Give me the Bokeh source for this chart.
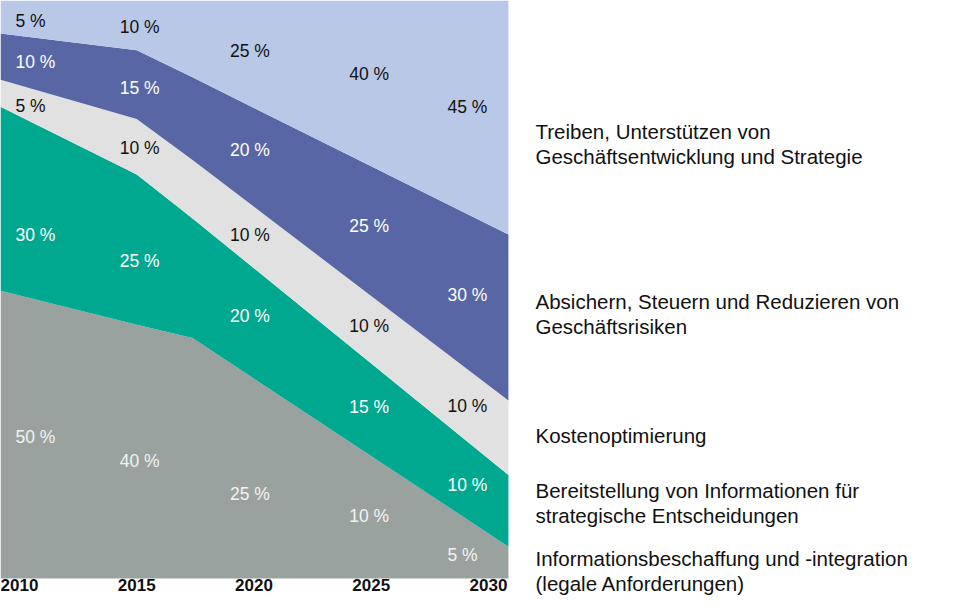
from bokeh.plotting import figure
from bokeh.models import Range1d, FixedTicker, ColumnDataSource
from bokeh.embed import file_html
from bokeh.resources import INLINE
from bokeh.core.properties import value

# ---- data ----
years = [2010, 2015, 2020, 2025, 2030]
tick_labels = ["2010", "2015", "2020", "2025", "2030"]

# x positions of the drawn band vertices (years) and layer thicknesses in %
x_edges = [2009.19, 2015.0, 2017.38, 2030.85]
info = [49.8, 43.9, 41.6, 5.5]          # Informationsbeschaffung
bereit = [31.8, 26.0, 20.7, 12.4]       # Bereitstellung von Informationen
kosten = [4.7, 9.6, 10.1, 12.9]         # Kostenoptimierung
absichern = [8.0, 11.9, 14.3, 28.7]     # Absichern, Steuern ...
treiben = [5.7, 8.6, 13.3, 40.5]        # Treiben, Unterstützen ...

# printed percentages per year
pct_info = [50, 40, 25, 10, 5]
pct_bereit = [30, 25, 20, 15, 10]
pct_kosten = [5, 10, 10, 10, 10]
pct_absichern = [10, 15, 20, 25, 30]
pct_treiben = [5, 10, 25, 40, 45]

layer_names = [
    ["Informationsbeschaffung und -integration", "(legale Anforderungen)"],
    ["Bereitstellung von Informationen für", "strategische Entscheidungen"],
    ["Kostenoptimierung"],
    ["Absichern, Steuern und Reduzieren von", "Geschäftsrisiken"],
    ["Treiben, Unterstützen von", "Geschäftsentwicklung und Strategie"],
]

# ---- styling / placement ----
colors = ["#9AA29F", "#00A88F", "#E0E1E0", "#5866A6", "#B9C8E6"]
text_colors = ["#F2F2F2", "#FFFFFF", "#111111", "#FFFFFF", "#111111"]
# vertical placement of the value labels (in % units of the y scale)
label_y = [
    [24.4, 20.3, 14.6, 10.8, 4.1],
    [59.5, 55.0, 45.5, 29.6, 16.2],
    [81.8, 74.4, 59.5, 43.6, 29.9],
    [89.3, 84.9, 74.1, 61.0, 49.0],
    [96.4, 95.4, 91.2, 87.3, 81.6],
]
col_dx = [-4, -17, -24, -22, -41]
# legend placement in screen pixels (left, first-line baseline) and line step
legend_left = 535
legend_baseline = [565, 497, 442, 308, 138]
legend_step = 25

FONT = "Liberation Sans"
W, H = 956, 598
PX_PER_YEAR = 23.45       # horizontal scale
ZERO_PX = 578             # screen row of the 0 % line
PX_PER_PCT = ZERO_PX / 100.0
X0 = 2009.19

x_range = Range1d(X0, X0 + W / PX_PER_YEAR)
y_range = Range1d(-(H - ZERO_PX) / PX_PER_PCT, 100)

p = figure(width=W, height=H, output_backend="svg", toolbar_location=None,
           x_range=x_range, y_range=y_range, y_axis_location=None,
           min_border_left=0, min_border_right=0, min_border_top=0, min_border_bottom=0)
p.outline_line_color = None
p.grid.visible = False
p.background_fill_color = "white"
p.border_fill_color = "white"

src = ColumnDataSource(dict(x=x_edges, info=info, bereit=bereit, kosten=kosten,
                            absichern=absichern, treiben=treiben))
p.varea_stack(stackers=["info", "bereit", "kosten", "absichern", "treiben"],
              x="x", color=colors, source=src)

pcts = [pct_info, pct_bereit, pct_kosten, pct_absichern, pct_treiben]
for i, vals in enumerate(pcts):
    s = ColumnDataSource(dict(x=years, y=label_y[i], t=[f"{v} %" for v in vals], dx=col_dx))
    p.text(x="x", y="y", text="t", x_offset="dx", source=s,
           text_font=value(FONT), text_font_size="17.5px",
           text_color=text_colors[i], text_align="left", text_baseline="middle")

ax = p.xaxis[0]
ax.fixed_location = 0
ax.ticker = FixedTicker(ticks=years)
ax.major_label_overrides = {y: t for y, t in zip(years, tick_labels)}
ax.axis_line_color = None
ax.major_tick_line_color = None
ax.minor_tick_line_color = None
ax.major_tick_out = 0
ax.major_tick_in = 0
ax.major_label_standoff = 0
ax.major_label_text_font = FONT
ax.major_label_text_font_size = "17px"
ax.major_label_text_font_style = "bold"
ax.major_label_text_color = "#111111"

# ---- right-hand legend text (positions given in screen pixels) ----
lx, ly, lt = [], [], []
for i, lines in enumerate(layer_names):
    for j, line in enumerate(lines):
        base_px = legend_baseline[i] + legend_step * j
        lx.append(X0 + legend_left / PX_PER_YEAR)
        ly.append((ZERO_PX - (base_px - 7)) / PX_PER_PCT)
        lt.append(line)
p.text(x=lx, y=ly, text=lt, text_font=value(FONT), text_font_size="20.5px",
       text_color="#111111", text_align="left", text_baseline="middle")

open("out.html", "w").write(file_html(p, INLINE))
